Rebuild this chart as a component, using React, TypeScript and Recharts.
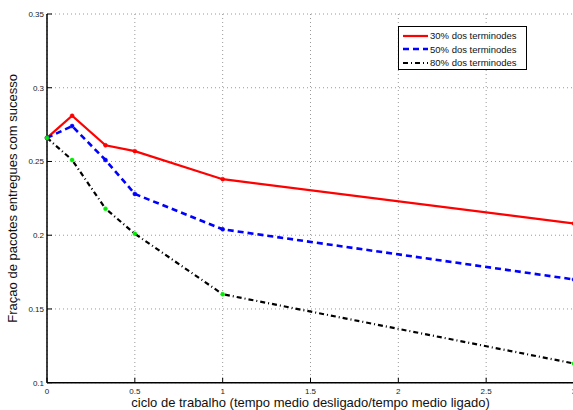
import React from 'react';
import { LineChart, Line, XAxis, YAxis, CartesianGrid, Label } from 'recharts';

// duty cycle values (x) and delivery ratio per share of terminals
const cycle = [0, 0.143, 0.333, 0.5, 1, 3];
const share30 = [0.266, 0.281, 0.261, 0.257, 0.238, 0.208];
const share50 = [0.266, 0.274, 0.251, 0.228, 0.204, 0.17];
const share80 = [0.266, 0.251, 0.218, 0.201, 0.16, 0.113];

const xTicks = [0, 0.5, 1, 1.5, 2, 2.5, 3];
const yTicks = [0.1, 0.15, 0.2, 0.25, 0.3, 0.35];

const series = [
 { key: 's30', name: '30% dos terminodes', color: '#ff0000', dash: undefined, width: 2.2, dot: '#ff0000' },
 { key: 's50', name: '50% dos terminodes', color: '#0000ff', dash: '6 4', width: 2.6, dot: '#0000ff' },
 { key: 's80', name: '80% dos terminodes', color: '#000000', dash: '5 3 1 3', width: 2.2, dot: '#00ee00' },
];

const chartData = cycle.map((c, i) => ({
 c,
 s30: share30[i],
 s50: share50[i],
 s80: share80[i],
}));

const FONT = '"Liberation Sans", Arial, Helvetica, sans-serif';

const YTick = ({ x, y, payload }: any) => (
 <g>
 <text x={x} y={y + 3} textAnchor="end" fontSize={8} fill="#222" fontFamily={FONT}>
 {String(payload.value)}
 </text>
 <line x1={x + 3} x2={x + 8} y1={y} y2={y} stroke="#000" />
 </g>
);

const XTick = ({ x, y, payload }: any) => (
 <g>
 <text x={x} y={y + 7} textAnchor="middle" fontSize={8} fill="#222" fontFamily={FONT}>
 {String(payload.value)}
 </text>
 <line x1={x} x2={x} y1={y - 4} y2={y - 9} stroke="#000" />
 </g>
);

const TopTick = ({ x, y }: any) => <line x1={x} x2={x} y1={y} y2={y + 5} stroke="#000" />;

const App = () => {
 return (
 <div style={{ position: 'absolute', left: 0, top: 0, width: 573, height: 410, overflow: 'hidden', background: '#fff' }}>
 <LineChart width={580} height={410} data={chartData} margin={{ top: 14, right: 6, left: 0, bottom: 0 }}>
 <CartesianGrid stroke="#999" strokeDasharray="1 3" />
 <XAxis
 dataKey="c"
 type="number"
 domain={[0, 3]}
 ticks={xTicks}
 height={27.3}
 tickSize={0}
 tickMargin={4}
 tick={<XTick />}
 axisLine={{ stroke: '#000', strokeWidth: 1.5 }}
 >
 <Label
 value="ciclo de trabalho (tempo medio desligado/tempo medio ligado)"
 position="insideBottom"
 offset={3}
 style={{ fontSize: 13, fill: '#111', fontFamily: FONT }}
 />
 </XAxis>
 <XAxis
 xAxisId="top"
 orientation="top"
 type="number"
 domain={[0, 3]}
 ticks={xTicks}
 height={0}
 tickSize={0}
 tickMargin={0}
 tick={<TopTick />}
 axisLine={{ stroke: '#000', strokeWidth: 1.5 }}
 />
 <YAxis
 type="number"
 domain={[0.1, 0.35]}
 ticks={yTicks}
 width={47}
 tickSize={0}
 tickMargin={3}
 tick={<YTick />}
 axisLine={{ stroke: '#000', strokeWidth: 1.5 }}
 >
 <Label
 value="Fraçao de pacotes entregues com sucesso"
 angle={-90}
 position="insideLeft"
 offset={12}
 style={{ fontSize: 13, fill: '#111', fontFamily: FONT, textAnchor: 'middle' }}
 />
 </YAxis>
 {series.map(s => (
 <Line
 key={s.key}
 dataKey={s.key}
 name={s.name}
 type="linear"
 stroke={s.color}
 strokeWidth={s.width}
 strokeDasharray={s.dash}
 dot={{ r: 2, fill: s.dot, stroke: s.dot, strokeWidth: 0.5, strokeDasharray: '' }}
 isAnimationActive={false}
 />
 ))}
 </LineChart>
 <div
 style={{
 position: 'absolute',
 left: 398,
 top: 26,
 width: 129,
 height: 44,
 border: '1px solid #000',
 background: '#fff',
 fontFamily: FONT,
 fontSize: 9.5,
 color: '#111',
 padding: '2px 0 0 4px',
 boxSizing: 'border-box',
 }}
 >
 {series.map(s => (
 <div key={s.key} style={{ display: 'flex', alignItems: 'center', height: 13.5, whiteSpace: 'nowrap' }}>
 <svg width={27} height={6} style={{ flex: 'none' }}>
 <line x1={0} x2={25} y1={3} y2={3} stroke={s.color} strokeWidth={s.width} strokeDasharray={s.dash} />
 </svg>
 <span>{s.name}</span>
 </div>
 ))}
 </div>
 </div>
 );
};

export default App;
